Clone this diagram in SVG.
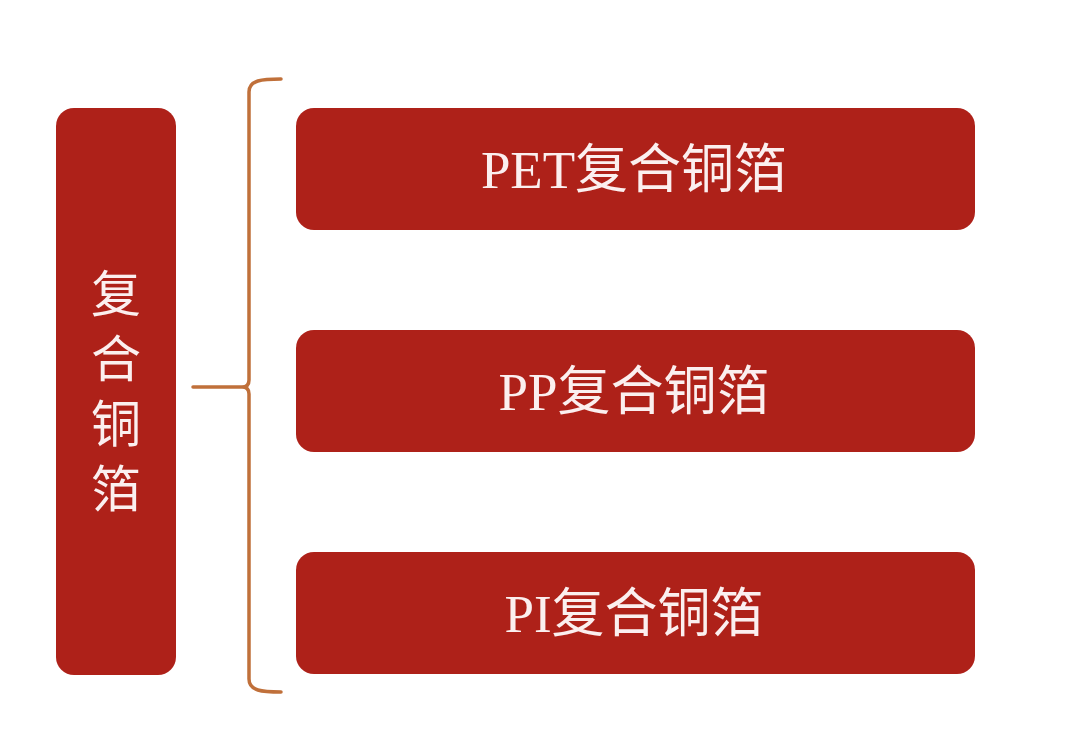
<svg xmlns="http://www.w3.org/2000/svg" width="1080" height="742" viewBox="0 0 1080 742">
<style>
.box{fill:#AE2119;}
.lbl{fill:#FBEFEF;font-family:"Liberation Serif","Noto Sans CJK SC",serif;font-size:53px;text-anchor:middle;}
.vlbl{fill:#FBEFEF;font-family:"Noto Sans CJK SC",sans-serif;font-size:50px;text-anchor:middle;}
.brace{fill:none;stroke:#C0703A;stroke-width:3.5;stroke-linecap:round;stroke-linejoin:round;}
</style>
<rect width="1080" height="742" fill="#FFFFFF"/>
<g id="root">
<rect class="box" x="56" y="108" width="120" height="567" rx="18"/>
<text class="vlbl" x="116" y="312">复</text>
<text class="vlbl" x="116" y="377">合</text>
<text class="vlbl" x="116" y="442">铜</text>
<text class="vlbl" x="116" y="507">箔</text>
</g>
<g id="connectors">
<path class="brace" d="M281,79 C262,79 249,80 249,92 L249,380 Q249,387 242,387 L193,387 M242,387 Q249,387 249,394 L249,679 C249,691 262,692 281,692"/>
</g>
<g id="n1">
<rect class="box" x="296" y="108" width="679" height="122" rx="18"/>
<text class="lbl" x="634" y="188">PET复合铜箔</text>
</g>
<g id="n2">
<rect class="box" x="296" y="330" width="679" height="122" rx="18"/>
<text class="lbl" x="634" y="410">PP复合铜箔</text>
</g>
<g id="n3">
<rect class="box" x="296" y="552" width="679" height="122" rx="18"/>
<text class="lbl" x="634" y="632">PI复合铜箔</text>
</g>
</svg>
